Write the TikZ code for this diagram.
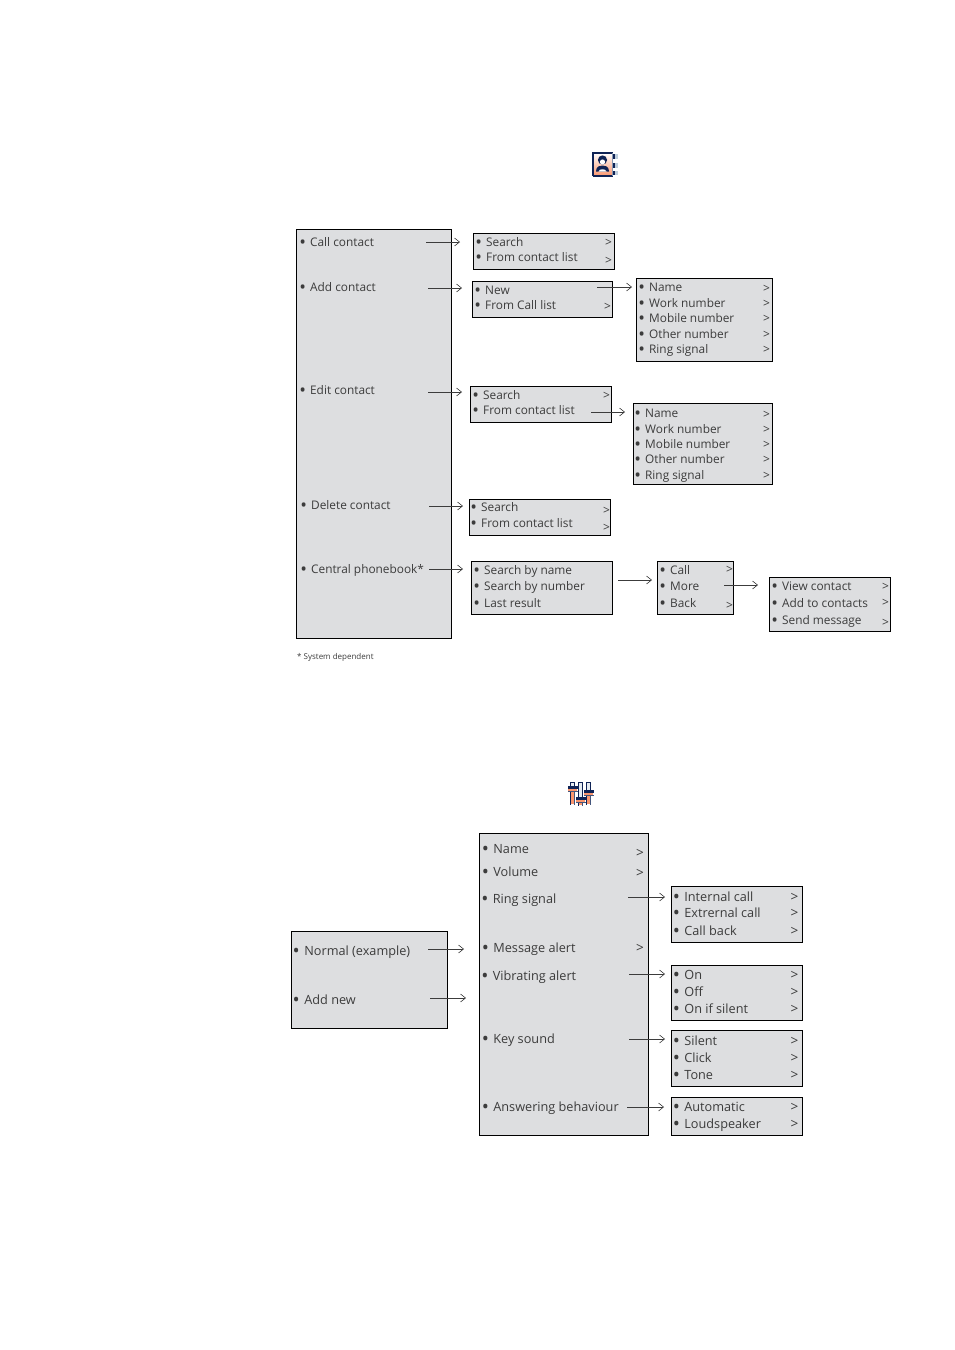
\documentclass[tikz,border=0pt]{standalone}
\usepackage{fontspec}
\setmainfont{Open Sans}
\usetikzlibrary{arrows.meta}
\definecolor{boxgray}{RGB}{221,222,224}
\definecolor{inkc}{RGB}{60,60,60}
\definecolor{navy}{RGB}{15,35,85}
\definecolor{peach}{RGB}{250,150,110}
\definecolor{paleblue}{RGB}{190,205,220}
\newcounter{tc}
\tikzset{
 x=1pt,y=-1pt,
 box/.style={draw=black,line width=.9pt,fill=boxgray,inner sep=0pt,outer sep=0pt,anchor=center},
 lab/.style={anchor=base west,inner sep=0pt,text=inkc,font=\fontsize{#1}{#1}\selectfont},
 conn/.style={draw=inkc,line width=.6pt,-{Straight Barb[length=5pt,width=8pt,line width=.6pt]}},
}
\makeatletter
\def\bu{\makebox[.84em][l]{\smash{\raisebox{-.22em}{\fontsize{\dimexpr1.5\dimexpr\f@size pt\relax}{1em}\selectfont\kern-.05em•}}}}
\makeatother
\newcommand{\bx}[5]{\node[box,minimum width={(#4-#2-.9)*1pt},minimum height={(#5-#3-.9)*1pt}] (#1) at ({(#2+#4)/2},{(#3+#5)/2}) {};}
\newcommand{\tx}[4]{\stepcounter{tc}\node[lab=#1] (t\thetc) at (#2,#3) {\bu #4};}
\newcommand{\ty}[4]{\stepcounter{tc}\node[lab=#1] (t\thetc) at (#2,#3) {#4};}
\newcommand{\ar}[5]{\coordinate (#1s) at (#2,#4); \coordinate (#1e) at (#3,#5); \draw[conn] (#1s) -- (#1e);}
\newcommand{\gt}[3]{\ty{#1}{#2}{#3}{>}}
\begin{document}
\begin{tikzpicture}
\useasboundingbox (0,0) rectangle (954,1350);
\fill[white] (0,0) rectangle (954,1350);
% top boxes
\bx{main}{296}{229}{452}{639}
\bx{b1}{473}{233}{615}{270}
\bx{b2}{472}{281}{613}{318}
\bx{b3}{636}{278}{773}{362}
\bx{b4}{470}{386}{612}{423}
\bx{b5}{633}{403}{773}{485}
\bx{b6}{469}{499}{611}{536}
\bx{b7}{471}{561}{613}{615}
\bx{b8}{657}{561}{734}{615}
\bx{b9}{769}{577}{891}{632}
% top text
\def\s{11.85}
\tx{\s}{300}{246}{Call contact}
\tx{\s}{300}{291}{Add contact}
\tx{\s}{300}{394}{Edit contact}
\tx{\s}{301}{509}{Delete contact}
\tx{\s}{301}{573}{Central phonebook*}
\tx{\s}{476}{246}{Search}
\tx{\s}{476}{261}{From contact list}
\tx{\s}{475}{294}{New}
\tx{\s}{475}{309}{From Call list}
\tx{\s}{639}{291}{Name}
\tx{\s}{639}{307}{Work number}
\tx{\s}{639}{322}{Mobile number}
\tx{\s}{639}{338}{Other number}
\tx{\s}{639}{353}{Ring signal}
\tx{\s}{473}{399}{Search}
\tx{\s}{473}{414}{From contact list}
\tx{\s}{635}{417}{Name}
\tx{\s}{635}{433}{Work number}
\tx{\s}{635}{448}{Mobile number}
\tx{\s}{635}{463}{Other number}
\tx{\s}{635}{479}{Ring signal}
\tx{\s}{471}{511}{Search}
\tx{\s}{471}{527}{From contact list}
\tx{\s}{474}{574}{Search by name}
\tx{\s}{474}{590}{Search by number}
\tx{\s}{474}{607}{Last result}
\tx{\s}{660}{574}{Call}
\tx{\s}{660}{590}{More}
\tx{\s}{660}{607}{Back}
\tx{\s}{772}{590}{View contact}
\tx{\s}{772}{607}{Add to contacts}
\tx{\s}{772}{624}{Send message}
\def\gs{12}
\gt{\gs}{605}{246}\gt{\gs}{605}{264}\gt{\gs}{604}{310}
\foreach \y in {292,307,322,338,353}{\gt{\gs}{763}{\y}}
\gt{\gs}{603}{399}
\foreach \y in {418,433,448,463,479}{\gt{\gs}{763}{\y}}
\gt{\gs}{603}{514}\gt{\gs}{603}{531}
\gt{\gs}{726}{573}\gt{\gs}{726}{609}
\gt{\gs}{882}{590}\gt{\gs}{882}{606}\gt{\gs}{882}{626}
\ty{8}{297}{659}{* System dependent}
% top arrows
\ar{a1}{426}{460}{242}{242}
\ar{a2}{428}{462}{288}{288}
\ar{a3}{597}{632}{287}{287}
\ar{a4}{428}{462}{392}{392}
\ar{a5}{591}{625}{412}{412}
\ar{a6}{429}{463}{506}{506}
\ar{a7}{429}{463}{569}{569}
\ar{a8}{618}{652}{580}{580}
\ar{a9}{724}{758}{585}{585}
% icon 1
\foreach \y/\h in {154/5,163/5,171/4}{
 \fill[paleblue] (613,\y) rectangle (618,\y+\h);
 \fill[navy] (612,\y) rectangle (614.5,\y+\h);
}
\shade[top color=white,bottom color=peach] (593,153) rectangle (612.5,176);
\draw[navy,line width=1.2pt] (593,176) -- (593,153) -- (612.5,153);
\draw[navy,line width=1.2pt] (593,176) -- (612.5,176);
\draw[paleblue!70!navy,line width=1pt] (612.5,153) -- (612.5,176);
\fill[navy] (602.5,160) circle[radius=4.6];
\fill[white] (602.5,162) circle[radius=2.6];
\fill[navy] (596,171.5) .. controls (596,166) and (600,165.5) .. (602.5,165.5) .. controls (605,165.5) and (609,166) .. (609,171.5) -- cycle;
\fill[white] (598.5,171.5) .. controls (599,168.5) and (606,168.5) .. (606.5,171.5) -- cycle;
% bottom boxes
\bx{n1}{291}{931}{448}{1029}
\bx{n2}{479}{833}{649}{1136}
\bx{n3}{671}{886}{803}{943}
\bx{n4}{671}{965}{803}{1021}
\bx{n5}{671}{1030}{803}{1087}
\bx{n6}{671}{1097}{803}{1136}
% bottom text
\def\m{12.7}
\tx{\m}{293.5}{955}{Normal (example)}
\tx{\m}{293.5}{1004}{Add new}
\tx{\m}{482.5}{853}{Name}
\tx{\m}{482.5}{876}{Volume}
\tx{\m}{482}{903}{Ring signal}
\tx{\m}{482.5}{952}{Message alert}
\tx{\m}{482}{980}{Vibrating alert}
\tx{\m}{482.5}{1043}{Key sound}
\tx{\m}{482.5}{1111}{Answering behaviour}
\tx{\m}{673.5}{901}{Internal call}
\tx{\m}{673.5}{917}{Extrernal call}
\tx{\m}{673.5}{935}{Call back}
\tx{\m}{673.5}{979}{On}
\tx{\m}{673.5}{996}{Off}
\tx{\m}{673.5}{1013}{On if silent}
\tx{\m}{673.5}{1045}{Silent}
\tx{\m}{673.5}{1062}{Click}
\tx{\m}{673.5}{1079}{Tone}
\tx{\m}{673.5}{1111}{Automatic}
\tx{\m}{673.5}{1128}{Loudspeaker}
\def\gm{13.5}
\gt{\gm}{636}{857}\gt{\gm}{636}{877}\gt{\gm}{636}{952}
\foreach \y in {901,917,935,979,996,1013,1045,1062,1079,1111,1128}{\gt{\gm}{790.5}{\y}}
% bottom arrows
\ar{c1}{428}{464}{949}{949}
\ar{c2}{430}{466}{998}{998}
\ar{c3}{628}{665}{897}{897}
\ar{c4}{629}{665}{974}{974}
\ar{c5}{629}{665}{1039}{1039}
\ar{c6}{627}{664}{1107}{1107}
% icon 2
\foreach \xa/\yk/\yb in {570/786/804,578/797/805,586/790/804}{
 \draw[navy,line width=.6pt,fill=paleblue!40!white] (\xa+.5,782) rectangle (\xa+4.5,\yk);
 \fill[navy] (\xa,\yk) rectangle (\xa+1.2,\yb+1);
 \fill[navy!70!paleblue] (\xa+3.8,\yk) rectangle (\xa+5,\yb+1);
 \fill[peach] (\xa+1.2,\yk) rectangle (\xa+3.8,\yb);
 \fill[navy] (\xa-2.5,\yk) rectangle (\xa+7.5,\yk+2.5);
 \fill[peach] (\xa-2,\yk+2.5) rectangle (\xa+7,\yk+4.5);
 \fill[navy!70!paleblue] (\xa-2.5,\yk+4.5) rectangle (\xa+7.5,\yk+5.3);
}
\end{tikzpicture}
\end{document}
